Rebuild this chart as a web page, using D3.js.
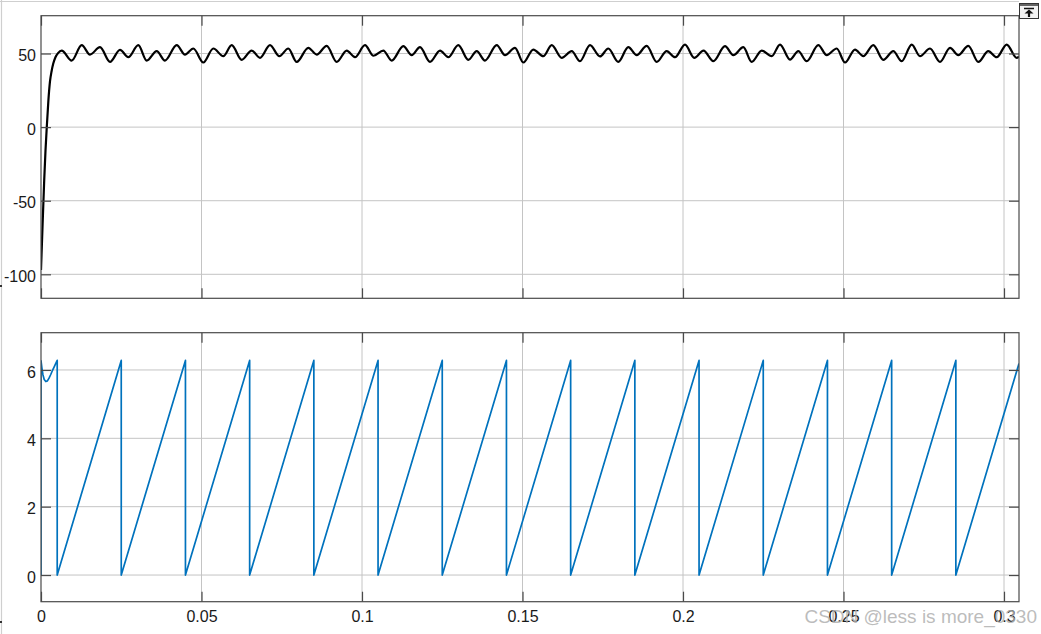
<!DOCTYPE html>
<html>
<head>
<meta charset="utf-8">
<script src="https://cdn.jsdelivr.net/npm/d3@7"></script>
<style>
  html, body { margin: 0; padding: 0; background: #ffffff; }
  svg { display: block; }
  text { font-family: "Liberation Sans", Arial, Helvetica, sans-serif; }
</style>
</head>
<body>
<svg id="chart" width="1041" height="634"></svg>
<script>
// ---------------- data (time in ms) ----------------
const freqT = [0, 0.5, 1.0, 1.4, 1.8, 2.3, 2.8, 3.3, 3.8, 4.5, 5.3,
  6.45, 9.56, 12.68, 15.26, 18.38, 21.50, 24.61, 27.20, 30.31, 32.93, 36.04, 38.63,
  42.27, 44.86, 47.45, 50.56, 53.68, 56.79, 59.41, 62.52, 65.64, 68.22, 71.34, 74.24,
  77.04, 79.66, 83.27, 85.89, 89.00, 92.12, 95.23, 97.82, 100.93, 103.58, 106.64, 109.25,
  112.87, 115.48, 118.07, 121.18, 124.30, 126.88, 130.00, 133.12, 135.73, 138.32, 141.96, 144.55,
  147.66, 150.25, 153.36, 156.48, 159.10, 162.21, 165.33, 167.91, 171.03, 174.14, 176.73, 179.84,
  182.96, 185.58, 188.69, 191.81, 194.92, 197.51, 200.62, 203.50, 206.40, 209.44, 213.08, 215.67,
  218.79, 221.40, 224.52, 227.63, 230.22, 233.33, 235.92, 238.54, 242.15, 244.77, 247.88, 250.47,
  253.58, 256.17, 259.28, 262.40, 265.51, 268.13, 271.25, 273.83, 276.95, 280.06, 283.18, 285.76,
  288.88, 291.99, 295.11, 297.73, 300.84, 303.96, 304.67];
const freqV = [-97, -66, -36, -16, 0, 18, 31, 38, 43, 47.5, 50.3,
  52.0, 45.2, 55.7, 49.3, 54.3, 44.3, 52.5, 47.5, 55.7, 45.2, 51.6, 45.2,
  55.7, 49.3, 53.4, 43.9, 53.4, 48.2, 55.7, 45.7, 52.0, 47.1, 55.7, 48.2,
  53.4, 44.3, 53.9, 49.3, 55.2, 44.3, 52.0, 47.5, 55.7, 48.5, 52.0, 45.2,
  55.0, 48.9, 54.3, 44.3, 52.0, 47.5, 55.7, 45.7, 51.6, 45.2, 55.7, 48.9,
  53.9, 43.9, 52.7, 48.2, 55.7, 47.1, 51.6, 44.8, 55.7, 48.0, 53.4, 44.3,
  54.3, 48.9, 55.2, 44.3, 51.6, 47.5, 56.1, 47.1, 52.0, 44.8, 55.0, 48.9,
  54.3, 44.3, 52.0, 48.2, 56.1, 45.9, 51.6, 44.8, 55.7, 48.9, 53.4, 43.9,
  52.7, 48.2, 55.7, 45.7, 51.6, 44.8, 56.1, 48.2, 53.4, 44.3, 53.9, 48.9,
  55.2, 44.3, 51.6, 47.5, 56.1, 47.1, 48.0];

const phaseT = [0, 0, 0.3, 0.6, 1.0, 1.5, 2.0, 2.5, 3.0, 3.5, 4.0, 4.5, 5.05, 5.05,
  25, 25, 45, 45, 65, 65, 85, 85, 105, 105, 125, 125, 145, 145, 165, 165,
  185, 185, 205, 205, 225, 225, 245, 245, 265, 265, 285, 285, 304.67];
const phaseV = [0, 6.27, 6.05, 5.86, 5.72, 5.66, 5.68, 5.76, 5.86, 5.97, 6.07, 6.17, 6.28, 0,
  6.28, 0, 6.28, 0, 6.28, 0, 6.28, 0, 6.28, 0, 6.28, 0, 6.28, 0, 6.28, 0,
  6.28, 0, 6.28, 0, 6.28, 0, 6.28, 0, 6.28, 0, 6.28, 0, 6.19];

const xTicks = [0, 0.05, 0.1, 0.15, 0.2, 0.25, 0.3];
const xTickLabels = ["0", "0.05", "0.1", "0.15", "0.2", "0.25", "0.3"];
const topYTicks = [-100, -50, 0, 50];
const topYTickLabels = ["-100", "-50", "0", "50"];
const botYTicks = [0, 2, 4, 6];
const botYTickLabels = ["0", "2", "4", "6"];

const xDomain = [0, 0.30467];
const topYDomain = [-116.3, 75.7];
const botYDomain = [-0.78, 7.09];

// ---------------- layout ----------------
const svg = d3.select("#chart");
const L = 41, R = 1019;
const topPanel = { y0: 15.7, y1: 298.3 };
const botPanel = { y0: 332.7, y1: 601.7 };
const BOX = "#4a4a4a", GRID = "#c4c4c4", TXT = "#1a1a1a";

const x = d3.scaleLinear().domain(xDomain).range([L, R]);

// outer figure frame
svg.append("line").attr("x1", 0).attr("x2", R).attr("y1", 1.5).attr("y2", 1.5)
  .attr("stroke", "#cfcfcf").attr("stroke-width", 1.2);
svg.append("line").attr("x1", 1.5).attr("x2", 1.5).attr("y1", 0).attr("y2", 634)
  .attr("stroke", "#cfcfcf").attr("stroke-width", 1.2);
svg.append("rect").attr("x", 0).attr("y", 285).attr("width", 2).attr("height", 2).attr("fill", "#333");
svg.append("rect").attr("x", 0).attr("y", 621).attr("width", 2).attr("height", 2).attr("fill", "#333");

function panel(p, yDomain, yTicks, yLabels, tArr, vArr, color, width, curve, showX, id) {
  const y = d3.scaleLinear().domain(yDomain).range([p.y1, p.y0]);
  const g = svg.append("g");
  const w = R - L, h = p.y1 - p.y0;

  g.append("defs").append("clipPath").attr("id", id)
    .append("rect").attr("x", L).attr("y", p.y0).attr("width", w).attr("height", h);

  // grid
  g.append("g").selectAll("line").data(xTicks.filter(d => d > 0)).join("line")
    .attr("x1", d => x(d)).attr("x2", d => x(d)).attr("y1", p.y0).attr("y2", p.y1)
    .attr("stroke", GRID).attr("stroke-width", 1);
  g.append("g").selectAll("line").data(yTicks).join("line")
    .attr("x1", L).attr("x2", R).attr("y1", d => y(d)).attr("y2", d => y(d))
    .attr("stroke", GRID).attr("stroke-width", 1);

  // data line
  const pts = d3.zip(tArr, vArr);
  const line = d3.line().x(d => x(d[0] / 1000)).y(d => y(d[1])).curve(curve);
  g.append("path").attr("clip-path", `url(#${id})`).attr("d", line(pts))
    .attr("fill", "none").attr("stroke", color).attr("stroke-width", width)
    .attr("stroke-linejoin", "round");

  // axes (inward ticks on all four sides)
  const styleAxis = sel => {
    sel.select(".domain").remove();
    sel.selectAll(".tick line").attr("stroke", BOX).attr("stroke-width", 1.2);
    sel.selectAll(".tick text").attr("fill", TXT).attr("font-size", 16);
  };
  const left = g.append("g").attr("transform", `translate(${L},0)`)
    .call(d3.axisLeft(y).tickValues(yTicks).tickFormat((d, i) => yLabels[i])
      .tickSize(-10).tickSizeOuter(0).tickPadding(5));
  styleAxis(left);
  left.selectAll(".tick text").attr("dy", "0.45em");
  const right = g.append("g").attr("transform", `translate(${R},0)`)
    .call(d3.axisRight(y).tickValues(yTicks).tickFormat("").tickSize(-10).tickSizeOuter(0));
  styleAxis(right);
  const top = g.append("g").attr("transform", `translate(0,${p.y0})`)
    .call(d3.axisTop(x).tickValues(xTicks).tickFormat("").tickSize(-10).tickSizeOuter(0));
  styleAxis(top);
  const bottom = g.append("g").attr("transform", `translate(0,${p.y1})`)
    .call(d3.axisBottom(x).tickValues(xTicks)
      .tickFormat((d, i) => showX ? xTickLabels[i] : "")
      .tickSize(-10).tickSizeOuter(0).tickPadding(9));
  styleAxis(bottom);

  // box
  g.append("rect").attr("x", L).attr("y", p.y0).attr("width", w).attr("height", h)
    .attr("fill", "none").attr("stroke", BOX).attr("stroke-width", 1.2);
}

panel(topPanel, topYDomain, topYTicks, topYTickLabels, freqT, freqV, "#000000", 2.2, d3.curveMonotoneX, false, "clipTop");
panel(botPanel, botYDomain, botYTicks, botYTickLabels, phaseT, phaseV, "#0072BD", 1.7, d3.curveLinear, true, "clipBot");

// top-right restore icon
const icon = svg.append("g");
icon.append("rect").attr("x", 1019.5).attr("y", 3.5).attr("width", 19).attr("height", 15)
  .attr("fill", "#f2f2f2").attr("stroke", "#333").attr("stroke-width", 1);
icon.append("line").attr("x1", 1020).attr("x2", 1038).attr("y1", 5).attr("y2", 5)
  .attr("stroke", "#333").attr("stroke-width", 1.5);
icon.append("line").attr("x1", 1024).attr("x2", 1034).attr("y1", 8.5).attr("y2", 8.5)
  .attr("stroke", "#111").attr("stroke-width", 1.5);
icon.append("path").attr("d", "M1029,9.5 L1024.5,13.5 L1033.5,13.5 Z").attr("fill", "#111");
icon.append("line").attr("x1", 1029).attr("x2", 1029).attr("y1", 13).attr("y2", 17)
  .attr("stroke", "#111").attr("stroke-width", 2.2);

// watermark (overlaps the last tick labels, as in the reference)
svg.append("text").attr("x", 1037).attr("y", 623).attr("text-anchor", "end")
  .attr("font-size", 19).attr("fill", "#b0b0b0").attr("fill-opacity", 0.85)
  .text("CSDN @less is more_0330");
</script>
</body>
</html>
